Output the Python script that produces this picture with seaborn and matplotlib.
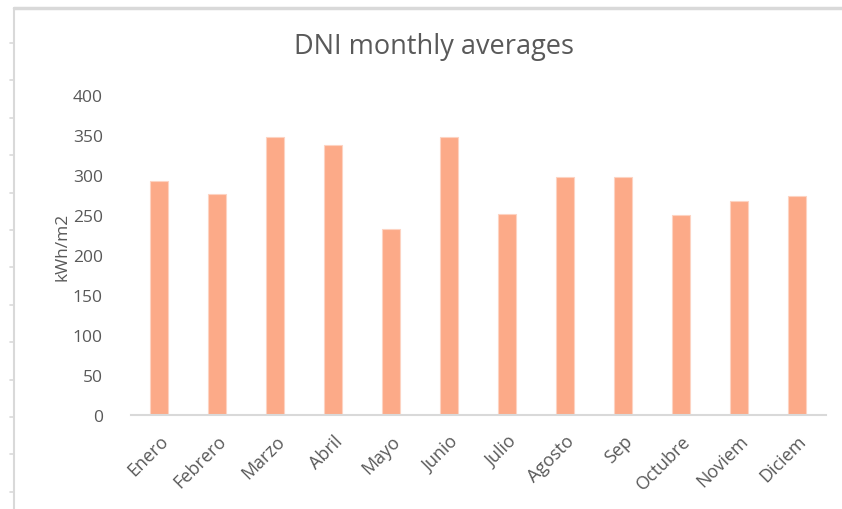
import numpy as np
import pandas as pd
import matplotlib
matplotlib.use("Agg")
import matplotlib.pyplot as plt
from matplotlib.lines import Line2D
import seaborn as sns

# ========= Data =========
months = ["Enero", "Febrero", "Marzo", "Abril", "Mayo", "Junio",
          "Julio", "Agosto", "Sep", "Octubre", "Noviem", "Diciem"]
dni = [292, 276, 347, 338, 232, 347, 251, 298, 298, 250, 267, 274]
y_ticks = [0, 50, 100, 150, 200, 250, 300, 350, 400]

data = pd.DataFrame({"month": months, "dni": dni})

# ========= Style =========
sns.set_style("white")
plt.rcParams['font.family'] = ['Open Sans', 'DejaVu Sans']
text_color = "#595959"
bar_color = "#FCAA88"
frame_color = "#D9D9D9"

W, H = 842, 510
fig = plt.figure(figsize=(W / 100, H / 100), dpi=100)
ax_w = 826 - 130.5
ax = fig.add_axes([130.5 / W, (H - 416) / H, ax_w / W, (416 - 96) / H])

sns.barplot(data=data, x="month", y="dni", color=bar_color, width=0.31,
            saturation=1, edgecolor="#FDD3C2", linewidth=0.8, ax=ax)

ax.set_ylim(0, 400)
ax.set_xlim(-0.5, len(months) - 0.5)
ax.set_yticks(y_ticks)
ax.set_yticklabels([str(t) for t in y_ticks], fontsize=12.5, color=text_color)
ax.set_xticks(range(len(months)))
ax.set_xticklabels(months, rotation=45, ha="right", rotation_mode="anchor",
                   fontsize=13, color=text_color)
ax.tick_params(axis="both", length=0)
ax.tick_params(axis="y", pad=20)
ax.tick_params(axis="x", pad=12)

ax.set_xlabel("")
ax.set_ylabel("kWh/m2", fontsize=12.5, color=text_color)
ax.yaxis.set_label_coords((71 - 130.5) / ax_w, 0.53)

for side in ["top", "right", "left"]:
    ax.spines[side].set_visible(False)
ax.spines["bottom"].set_color(frame_color)
ax.spines["bottom"].set_linewidth(1.5)

fig.text(434 / W, 1 - 47 / H, "DNI monthly averages", ha="center", va="center",
         fontsize=19.5, color=text_color)

# ========= Outer frame (sheet border) =========
fig.add_artist(Line2D([14 / W, 1], [1 - 9 / H, 1 - 9 / H], color=frame_color, lw=2.5,
                      transform=fig.transFigure))
fig.add_artist(Line2D([14 / W, 14 / W], [0, 1 - 9 / H], color=frame_color, lw=1.5,
                      transform=fig.transFigure))
for ty in np.arange(44, 500, 37.4):
    fig.add_artist(Line2D([10 / W, 14 / W], [1 - ty / H, 1 - ty / H], color=frame_color,
                          lw=1.2, transform=fig.transFigure))

fig.savefig("out.png", dpi=100)
